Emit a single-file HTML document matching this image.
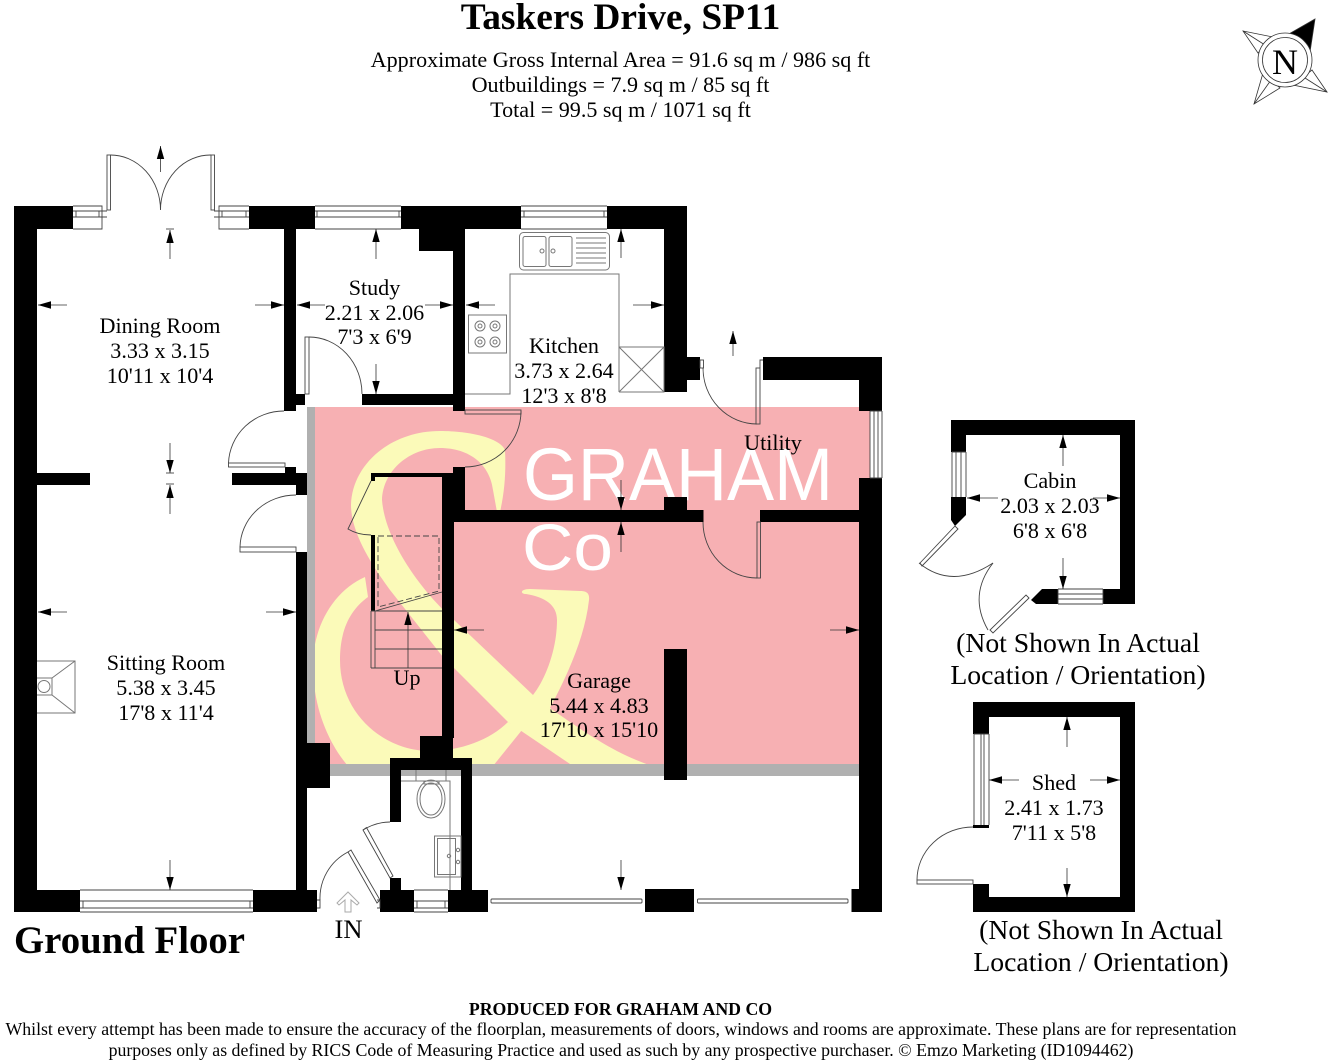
<!DOCTYPE html>
<html><head><meta charset="utf-8"><style>
html,body{margin:0;padding:0;background:#fff}
svg{display:block}
text{font-family:"Liberation Serif",serif;fill:#000}
.r{font-size:22.1px;text-anchor:middle}
.h{font-size:22.1px;text-anchor:middle}
.n{font-size:27.7px;text-anchor:middle}
.f{font-size:17.8px;text-anchor:middle}
.l{fill:none;stroke:#444;stroke-width:.9}
.g{fill:none;stroke:#777;stroke-width:1}
.d{fill:#fff;stroke:#444;stroke-width:.9}
.a{fill:none;stroke:#333;stroke-width:.8;marker-end:url(#ah)}
</style></head><body>
<svg width="1328" height="1064" viewBox="0 0 1328 1064" xmlns="http://www.w3.org/2000/svg">
<defs>
<marker id="ah" markerUnits="userSpaceOnUse" markerWidth="14" markerHeight="8" refX="13" refY="4" orient="auto"><path d="M0 0.3L13 4L0 7.7Z" fill="#000"/></marker>
<clipPath id="pc"><rect x="315" y="407" width="544" height="357"/></clipPath>
</defs>

<!-- watermark -->
<rect x="307" y="407" width="563" height="369" fill="#f7b0b3"/>
<rect x="307" y="407" width="8" height="369" fill="#b0b0b0"/>
<rect x="307" y="764" width="553" height="12" fill="#b0b0b0"/>
<g clip-path="url(#pc)" fill="#fbfab9">
<path d="M500 512C505 490 506 470 505 450C500 438 470 431 440 431C390 431 352 465 351 505C351 530 368 560 390 590L443 657L508 722L573 766L652 766C620 755 595 740 550 708C570 670 585 635 589 600C590 592 585 591 580 591L530 589C520 589 520 594 526 594C545 597 557 605 557 620C557 650 545 680 533 695L454 620C420 590 385 540 382 500C383 470 410 448 440 448C470 448 490 465 493 490L497 512Z"/>
<path d="M365 577C335 590 313 625 313 665C313 710 330 745 348 766L493 766L522 730L508 722C490 740 460 751 430 751C385 751 340 715 340 660C340 630 350 610 368 597Z"/>
</g>
<text x="523" y="500" font-size="74" textLength="310" lengthAdjust="spacingAndGlyphs" style="font-family:'Liberation Sans',sans-serif;fill:#fff">GRAHAM</text>
<text x="522" y="570" font-size="66" textLength="91" lengthAdjust="spacingAndGlyphs" style="font-family:'Liberation Sans',sans-serif;fill:#fff">Co</text>

<!-- walls -->
<g fill="#000">
<rect x="14" y="206" width="23" height="706"/>
<rect x="14" y="206" width="59" height="23"/>
<rect x="249" y="206" width="66" height="23"/>
<rect x="401" y="206" width="120" height="23"/>
<rect x="607" y="206" width="80" height="23"/>
<rect x="284" y="229" width="12" height="182"/>
<rect x="453" y="229" width="12" height="182"/>
<rect x="419" y="229" width="34" height="22"/>
<rect x="362" y="394" width="93" height="11"/>
<rect x="296" y="394" width="9" height="11"/>
<rect x="37" y="473" width="53" height="12"/>
<rect x="232" y="473" width="75" height="12"/>
<rect x="285" y="467" width="11" height="6"/>
<rect x="296" y="473" width="11" height="22"/>
<rect x="296" y="552" width="11" height="340"/>
<rect x="307" y="743" width="23" height="45"/>
<rect x="14" y="890" width="66" height="22"/>
<rect x="253" y="890" width="64" height="22"/>
<rect x="380" y="890" width="34" height="22"/>
<rect x="448" y="890" width="40" height="22"/>
<rect x="390" y="878" width="11" height="12"/>
<rect x="390" y="758" width="11" height="64"/>
<rect x="390" y="758" width="82" height="12"/>
<rect x="461" y="758" width="11" height="132"/>
<rect x="420" y="736" width="33" height="22"/>
<rect x="442" y="473" width="12" height="265"/>
<rect x="453" y="467" width="12" height="43"/>
<rect x="371" y="473" width="71" height="4"/>
<rect x="371" y="477" width="4" height="4"/>
<rect x="371" y="535" width="4" height="76"/>
<rect x="442" y="510" width="261.500" height="12"/>
<rect x="760" y="510" width="100" height="12"/>
<rect x="664" y="497" width="23" height="14"/>
<rect x="664" y="229" width="23" height="163"/>
<rect x="687" y="357" width="13" height="23"/>
<rect x="763" y="357" width="119" height="23"/>
<rect x="859" y="357" width="23" height="54"/>
<rect x="859" y="478" width="23" height="434"/>
<rect x="851.500" y="889" width="30" height="23"/>
<rect x="645" y="889" width="49" height="23"/>
<rect x="664" y="649" width="23" height="131"/>
<!-- cabin -->
<rect x="951" y="420" width="184" height="15"/>
<rect x="1120" y="420" width="15" height="184"/>
<rect x="951" y="420" width="15" height="32"/>
<path d="M951 497H966V515L955 526L951 520Z"/>
<path d="M1031 600L1042 589H1058V604H1036Z"/>
<rect x="1103" y="589" width="32" height="15"/>
<!-- shed -->
<rect x="973" y="702" width="162" height="15"/>
<rect x="1120" y="702" width="15" height="210"/>
<rect x="973" y="897" width="162" height="15"/>
<rect x="973" y="702" width="16" height="32"/>
<rect x="973" y="825" width="16" height="3"/>
<rect x="973" y="884" width="16" height="28"/>
</g>

<!-- windows -->
<g class="l">
<path d="M73 206H102V229H73M73 211H107M73 217H107M76 211V217M99 211V217"/>
<path d="M249 206H219V229H249M249 211H214M249 217H214M246 211V217M222 211V217"/>
<path d="M315 206H401M315 229H401M315 211H401M315 217H401M317 211V217M399 211V217"/>
<path d="M521 206H607M521 229H607M521 211H607M521 217H607M524 211V217M604 211V217"/>
<path d="M80 890H253M80 912H253M80 901H253M80 908H253M83 901V908M250 901V908"/>
<path d="M414 890H448M414 912H448M414 901H448M414 908H448M417 901V908M445 901V908"/>
<path d="M870 411V478M874 411V478M878 411V478M882 411V478M870 411H882M870 478H882"/>
<path d="M952 452V497M956 452V497M961 452V497M966 452V497M952 452H966"/>
<path d="M1058 589H1103M1058 594H1103M1058 599H1103M1058 604H1103M1058 589V604M1103 589V604"/>
<path d="M974 734V825M981 734V825M984 734V825M989 734V825M974 734H989"/>
<!-- garage door leaves -->
<rect x="491" y="899" width="151" height="4" rx="1"/>
<rect x="697.500" y="899" width="150.500" height="4" rx="1"/>
</g>

<!-- doors -->
<g class="l">
<rect x="107" y="155" width="3.500" height="55"/>
<rect x="211" y="155" width="3.500" height="55"/>
<path d="M110.500 155A50 55 0 0 1 160.500 210M211 155A50 55 0 0 0 160.500 210"/>
<rect x="305" y="337" width="4" height="57"/>
<path d="M309 337A53 57 0 0 1 362 394"/>
<rect x="228.500" y="463" width="56.500" height="4"/>
<path d="M284 411A55.500 54 0 0 0 228.500 463"/>
<rect x="240" y="547" width="56" height="5"/>
<path d="M296 495A56 53 0 0 0 240 547"/>
<rect x="465" y="410" width="56" height="4"/>
<path d="M521 411A56 56 0 0 1 465 467"/>
<rect x="700" y="360" width="3.500" height="8"/>
<path d="M703 368A54 56 0 0 0 757 424"/>
<rect x="756" y="368" width="4" height="56"/>
<path d="M760 368V360H763"/>
<path d="M703 522A54 56 0 0 0 757 578"/>
<rect x="757" y="522" width="3.500" height="56"/>
<path d="M371 481L348 529Q358 535 371 535"/>
<path d="M320 900A52 52 0 0 1 348 852"/>
<path d="M348 852L351 850L380 900L377 903Z"/>
<path d="M317 900H320V908H317M377 900H380V908H377"/>
<path d="M363 830L366.500 827.500L393 876L390 878Z"/>
<path d="M363 830Q376 822 390 822"/>
<path d="M920 563L955 526L958 529L922 566Z"/>
<path d="M919 563Q952 590 993 563"/>
<path d="M993 563Q968 595 988 630"/>
<path d="M1029 598L993 633L990 630L1026 595Z"/>
<path d="M973 827A56 53 0 0 0 917 880"/>
<rect x="917" y="880" width="56" height="4"/>
</g>

<!-- stairs -->
<g class="l" stroke="#222">
<path d="M378 536H439V591L378 607Z" stroke-dasharray="6 3"/>
<path d="M375 611L442 592"/>
<path d="M371 611H442M375 630H442M375 649H442M371 668H442M371 611V668M375 611V668"/>
</g>

<!-- fixtures -->
<g class="g">
<path d="M465 394H510V274H619V392M619 347H664V392H619M619 347L664 392M664 347L619 392"/>
<rect x="519.500" y="232.500" width="90" height="37.500" rx="4"/>
<rect x="523" y="236.500" width="23" height="30" rx="2"/>
<rect x="549" y="236.500" width="23" height="30" rx="2"/>
<path d="M576 238H606M576 243H606M576 248H606M576 253H606M576 258H606M576 263H606"/>
<circle cx="542" cy="251" r="2"/><circle cx="553" cy="251" r="2"/>
<rect x="468.500" y="315" width="38" height="38"/>
<circle cx="480" cy="326" r="5"/><circle cx="480" cy="326" r="2"/>
<circle cx="495" cy="326" r="5"/><circle cx="495" cy="326" r="2"/>
<circle cx="480" cy="342" r="5"/><circle cx="480" cy="342" r="2"/>
<circle cx="495" cy="342" r="5"/><circle cx="495" cy="342" r="2"/>
<path d="M37 661H75V713H37M37 678H52V695H37M75 661L52 678M75 713L52 695"/>
<circle cx="44" cy="686.500" r="6"/>
<path d="M401 781H450V890M416 770V781M446 770V781"/>
<ellipse cx="431" cy="799" rx="14" ry="19"/><ellipse cx="431" cy="799" rx="11" ry="16"/>
<rect x="424" y="781" width="15" height="3"/>
<rect x="434.500" y="836" width="26.500" height="41"/>
<rect x="437.500" y="838.500" width="18" height="36"/>
<circle cx="449" cy="856" r="1.700"/><circle cx="458" cy="850" r="1.700"/><circle cx="458" cy="862" r="1.700"/>
</g>
<path d="M348 892L337 903L339 905L345 900V912H351V900L357 905L359 903Z" fill="#fff" stroke="#aaa" stroke-width="1"/>

<!-- arrows -->
<g>
<path class="a" d="M160.500 172V146"/>
<path class="a" d="M170 259V230"/><path class="l" d="M166 229H174"/>
<path class="a" d="M170 443V473"/><path class="l" d="M166 473H174"/>
<path class="a" d="M170 514V485"/><path class="l" d="M166 484H174"/>
<path class="a" d="M67 305H38"/><path class="a" d="M255 305H284"/>
<path class="a" d="M376 259V229"/><path class="a" d="M376 364V394"/>
<path class="a" d="M325 305H297"/><path class="a" d="M425 305H453"/>
<path class="a" d="M495 305H466"/><path class="a" d="M633 305H664"/>
<path class="a" d="M621 258V229"/><path class="a" d="M733 356V331"/>
<path class="a" d="M621 480V510"/><path class="a" d="M621 552V522"/>
<path class="a" d="M67 612H38"/><path class="a" d="M266 612H296"/><path class="a" d="M170 860V890"/>
<path class="a" d="M484 630H454"/><path class="a" d="M830 630H859"/><path class="a" d="M621 860V890"/>
<path class="a" d="M408 668V612"/>
<path class="a" d="M1063 466V435"/><path class="a" d="M1063 558V589"/>
<path class="a" d="M998 498H967"/><path class="a" d="M1093 498H1120"/>
<path class="a" d="M1067 747V717"/><path class="a" d="M1067 868V897"/>
<path class="a" d="M1019 780H989"/><path class="a" d="M1090 780H1120"/>
</g>

<!-- compass -->
<g fill="#fff" stroke="#333" stroke-width=".8">
<path d="M1243 31L1273 37L1258 53Z"/>
<path d="M1243 31L1265 45"/>
<path d="M1327 92L1312 70L1293 85Z"/>
<path d="M1327 92L1305 78"/>
<path d="M1254 104L1263 73L1280 88Z"/>
<path d="M1254 104L1271 80"/>
<path d="M1315 19L1287 35L1310 52Z" fill="#000"/>
<circle cx="1285" cy="60" r="27"/>
<circle cx="1285" cy="60" r="22.500"/>
</g>
<text x="1285" y="74" text-anchor="middle" font-size="36">N</text>

<!-- labels -->
<text x="620.500" y="29" text-anchor="middle" font-size="37.400" font-weight="bold">Taskers Drive, SP11</text>
<text class="h" x="620.500" y="67">Approximate Gross Internal Area = 91.6 sq m / 986 sq ft</text>
<text class="h" x="620.500" y="92">Outbuildings = 7.9 sq m / 85 sq ft</text>
<text class="h" x="620.500" y="117">Total = 99.5 sq m / 1071 sq ft</text>

<text class="r" x="160" y="333">Dining Room</text><text class="r" x="160" y="358">3.33 x 3.15</text><text class="r" x="160" y="383">10'11 x 10'4</text>
<text class="r" x="374.500" y="295">Study</text><text class="r" x="374.500" y="320">2.21 x 2.06</text><text class="r" x="374.500" y="344">7'3 x 6'9</text>
<text class="r" x="564" y="353">Kitchen</text><text class="r" x="564" y="378">3.73 x 2.64</text><text class="r" x="564" y="403">12'3 x 8'8</text>
<text class="r" x="773" y="450">Utility</text>
<text class="r" x="166" y="670">Sitting Room</text><text class="r" x="166" y="695">5.38 x 3.45</text><text class="r" x="166" y="720">17'8 x 11'4</text>
<text class="r" x="407" y="685">Up</text>
<text class="r" x="599" y="688">Garage</text><text class="r" x="599" y="713">5.44 x 4.83</text><text class="r" x="599" y="737">17'10 x 15'10</text>
<text class="r" x="1050" y="488">Cabin</text><text class="r" x="1050" y="513">2.03 x 2.03</text><text class="r" x="1050" y="538">6'8 x 6'8</text>
<text class="r" x="1054" y="790">Shed</text><text class="r" x="1054" y="815">2.41 x 1.73</text><text class="r" x="1054" y="840">7'11 x 5'8</text>
<text x="348.500" y="938" text-anchor="middle" font-size="26.500">IN</text>
<text x="14" y="953" font-size="38.800" font-weight="bold">Ground Floor</text>
<text class="n" x="1078" y="652">(Not Shown In Actual</text><text class="n" x="1078" y="684">Location / Orientation)</text>
<text class="n" x="1101" y="939">(Not Shown In Actual</text><text class="n" x="1101" y="971">Location / Orientation)</text>
<text class="f" x="620.500" y="1015" font-weight="bold">PRODUCED FOR GRAHAM AND CO</text>
<text class="f" x="621" y="1035">Whilst every attempt has been made to ensure the accuracy of the floorplan, measurements of doors, windows and rooms are approximate. These plans are for representation</text>
<text class="f" x="621" y="1056">purposes only as defined by RICS Code of Measuring Practice and used as such by any prospective purchaser. © Emzo Marketing (ID1094462)</text>
</svg>
</body></html>
